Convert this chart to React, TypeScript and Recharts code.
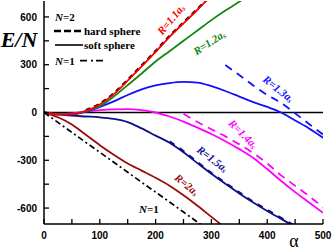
import React from 'react';
import { LineChart, Line, XAxis, YAxis, ReferenceLine, ReferenceDot } from 'recharts';

// alpha grid
const alpha = [0, 25, 50, 75, 100, 125, 150, 175, 200, 225, 250, 275, 300, 325, 350, 375, 400, 425, 450, 475, 500];

// E/N values, N=2, soft sphere (solid) and hard sphere (dashed)
const soft11 = [0, -12, -10, 10, 50, 115, 200, 290, 380, 475, 560, 645, 735, null, null, null, null, null, null, null, null];
const hard11 = [null, null, null, 15, 55, 120, 205, 295, 385, 480, 565, 650, 740, null, null, null, null, null, null, null, null];
const soft12 = [0, -12, -10, 8, 40, 100, 172, 245, 320, 385, 450, 515, 580, 640, 695, 755, null, null, null, null, null];
const soft13 = [0, -12, -12, 5, 35, 70, 110, 145, 170, 185, 192, 188, 165, 135, 100, 65, 35, 0, -50, -100, -158];
const hard13 = [null, null, null, null, null, null, null, null, null, null, null, null, null, 298, 235, 170, 110, 60, -5, -72, -138];
const soft14 = [0, -10, -5, 5, 15, 20, 21, 15, 0, -25, -57, -95, -135, -180, -230, -285, -355, -430, -500, -565, -630];
const hard14 = [null, null, null, null, null, null, null, null, null, null, -8, -60, -105, -150, -200, -255, -320, -395, -460, -525, -595];
const soft15 = [0, -12, -20, -25, -30, -40, -60, -100, -145, -190, -250, -318, -385, -448, -508, -565, -618, -668, -718, null, null];
const hard15 = [null, null, null, null, null, null, null, null, null, -182, -243, -312, -380, -442, -502, -560, -612, -662, -712, null, null];
const soft20 = [0, -30, -75, -140, -205, -265, -320, -365, -410, -460, -520, -585, -655, -725, null, null, null, null, null, null, null];
// N=1
const n1 = [0, -62, -125, -188, -250, -312, -375, -438, -500, -562, -625, -688, -750, null, null, null, null, null, null, null, null];

const xTicks = [0, 50, 100, 150, 200, 250, 300, 350, 400, 450, 500];
const xMajor = [0, 100, 200, 300, 400, 500];
const yTicks = [-600, -450, -300, -150, 0, 150, 300, 450, 600];
const yMajor = [-600, -300, 0, 300, 600];

// curve annotations (data coordinates)
const curveLabels = [
  { r: '1.1', a: 227, v: 585, rot: -50, color: '#ff0000' },
  { r: '1.2', a: 296, v: 440, rot: -33, color: '#118811' },
  { r: '1.3', a: 420, v: 150, rot: 38, color: '#1010ff' },
  { r: '1.4', a: 357, v: -133, rot: 45, color: '#ff00ff' },
  { r: '1.5', a: 302, v: -290, rot: 37, color: '#10108a' },
  { r: '2', a: 256, v: -452, rot: 39, color: '#990b0b' },
];

const data = alpha.map((a, i) => ({
  a,
  soft11: soft11[i], hard11: hard11[i], soft12: soft12[i],
  soft13: soft13[i], hard13: hard13[i], soft14: soft14[i], hard14: hard14[i],
  soft15: soft15[i], hard15: hard15[i], soft20: soft20[i], n1: n1[i],
}));

const SERIF = '"Liberation Serif", "DejaVu Serif", serif';
const SANS = '"Liberation Sans", Arial, sans-serif';
const AX = { stroke: '#000', strokeWidth: 1.5 };

const LeftTick = (p: any) => {
  const { x, y, payload } = p;
  const v = payload.value;
  return (
    <g>
      <line x1={x + 7} x2={x + 12} y1={y} y2={y} stroke="#000" strokeWidth={1.3} />
      {yMajor.includes(v) && (
        <text x={x} y={y} dy={3.6} textAnchor="end" fontFamily={SANS} fontWeight="bold" fontSize={10} fill="#000">{v}</text>
      )}
    </g>
  );
};
const RightTick = (p: any) => {
  const { x, y } = p;
  return <line x1={x} x2={x - 5} y1={y} y2={y} stroke="#000" strokeWidth={1.3} />;
};
const BottomTick = (p: any) => {
  const { x, y, payload } = p;
  const v = payload.value;
  return (
    <g>
      <line x1={x} x2={x} y1={y - 4} y2={y - 9} stroke="#000" strokeWidth={1.3} />
      {xMajor.includes(v) && (
        <text x={x} y={y + 10.5} textAnchor="middle" fontFamily={SANS} fontWeight="bold" fontSize={10} fill="#000">{v}</text>
      )}
    </g>
  );
};
const TopTick = (p: any) => {
  const { x, y } = p;
  return <line x1={x} x2={x} y1={y} y2={y + 5} stroke="#000" strokeWidth={1.3} />;
};

const labelShape = (l: any) => (p: any) => (
  <text
    x={p.cx}
    y={p.cy}
    transform={`rotate(${l.rot} ${p.cx} ${p.cy})`}
    textAnchor="middle"
    dominantBaseline="central"
    fontFamily={SERIF}
    fontStyle="italic"
    fontWeight="bold"
    fontSize={11}
    fill={l.color}
  >
    R={l.r}a<tspan fontSize={7} dy={3}>s</tspan>
  </text>
);

export default function App() {
  return (
    <div style={{ position: 'absolute', left: 0, top: 0, width: 332, height: 251, background: '#fff' }}>
      <LineChart width={332} height={251} data={data} margin={{ top: 1, right: 9, bottom: 0, left: 0 }}>
        <XAxis dataKey="a" type="number" domain={[0, 500]} ticks={xTicks} allowDataOverflow
          height={27} tickSize={0} tickMargin={4} tickLine={false} axisLine={AX} tick={<BottomTick />} interval={0} />
        <XAxis xAxisId="top" orientation="top" type="number" domain={[0, 500]} ticks={xTicks} allowDataOverflow
          height={0} tickSize={0} tickMargin={0} tickLine={false} axisLine={AX} tick={<TopTick />} interval={0} />
        <YAxis type="number" domain={[-700, 700]} ticks={yTicks} allowDataOverflow
          width={44} tickSize={0} tickMargin={7} tickLine={false} axisLine={AX} tick={<LeftTick />} interval={0} />
        <YAxis yAxisId="right" orientation="right" type="number" domain={[-700, 700]} ticks={yTicks} allowDataOverflow
          width={0} tickSize={0} tickMargin={0} tickLine={false} axisLine={AX} tick={<RightTick />} interval={0} />
        <ReferenceLine y={0} stroke="#000" strokeWidth={1.6} />

        <Line dataKey="soft20" type="monotone" stroke="#990b0b" strokeWidth={1.8} dot={false} isAnimationActive={false} />
        <Line dataKey="soft15" type="monotone" stroke="#10108a" strokeWidth={1.8} dot={false} isAnimationActive={false} />
        <Line dataKey="soft14" type="monotone" stroke="#ff00ff" strokeWidth={1.8} dot={false} isAnimationActive={false} />
        <Line dataKey="soft13" type="monotone" stroke="#1010ff" strokeWidth={1.8} dot={false} isAnimationActive={false} />
        <Line dataKey="soft12" type="monotone" stroke="#118811" strokeWidth={1.8} dot={false} isAnimationActive={false} />
        <Line dataKey="hard11" type="monotone" stroke="#000" strokeWidth={2.4} strokeDasharray="5 4" dot={false} isAnimationActive={false} />
        <Line dataKey="soft11" type="monotone" stroke="#ff0000" strokeWidth={1.8} dot={false} isAnimationActive={false} />
        <Line dataKey="hard15" type="monotone" stroke="#10108a" strokeWidth={2.2} strokeDasharray="6 6" dot={false} isAnimationActive={false} />
        <Line dataKey="hard14" type="monotone" stroke="#ff00ff" strokeWidth={1.8} strokeDasharray="8 6" dot={false} isAnimationActive={false} />
        <Line dataKey="hard13" type="monotone" stroke="#1010ff" strokeWidth={1.8} strokeDasharray="8 6" dot={false} isAnimationActive={false} />
        <Line dataKey="n1" type="linear" stroke="#000" strokeWidth={1.7} strokeDasharray="6 3 2 3" dot={false} isAnimationActive={false} />

        {curveLabels.map((l) => (
          <ReferenceDot key={l.r} x={l.a} y={l.v} r={1} shape={labelShape(l)} />
        ))}
        <ReferenceDot x={188} y={-606} r={1} shape={(p: any) => (
          <text x={p.cx} y={p.cy} dy={3.5} textAnchor="middle" fontFamily={SERIF} fontWeight="bold" fontSize={11} fill="#000">
            <tspan fontStyle="italic">N</tspan>=1
          </text>
        )} />
      </LineChart>
      <svg width={332} height={251} style={{ position: 'absolute', left: 0, top: 0, pointerEvents: 'none' }}>
        <text x={19} y={46.7} textAnchor="middle" fontFamily={SERIF} fontWeight="bold" fontStyle="italic" fontSize={22} fill="#000">E/N</text>
        <text x={294} y={246.5} textAnchor="middle" fontFamily={SERIF} fontSize={18} fill="#000">α</text>
        <text x={55} y={21} fontFamily={SERIF} fontWeight="bold" fontSize={11} fill="#000"><tspan fontStyle="italic">N</tspan>=2</text>
        <line x1={54} x2={82} y1={31} y2={31} stroke="#000" strokeWidth={2.6} strokeDasharray="7 3" />
        <text x={84} y={35} fontFamily={SERIF} fontWeight="bold" fontSize={11} fill="#000">hard sphere</text>
        <line x1={55} x2={83} y1={45} y2={45} stroke="#000" strokeWidth={1.6} />
        <text x={84} y={48.5} fontFamily={SERIF} fontWeight="bold" fontSize={11} fill="#000">soft sphere</text>
        <text x={55} y={64.5} fontFamily={SERIF} fontWeight="bold" fontSize={11} fill="#000"><tspan fontStyle="italic">N</tspan>=1</text>
        <line x1={80} x2={103} y1={60.7} y2={60.7} stroke="#000" strokeWidth={1.7} strokeDasharray="7 4 2 3 7" />
      </svg>
    </div>
  );
}
